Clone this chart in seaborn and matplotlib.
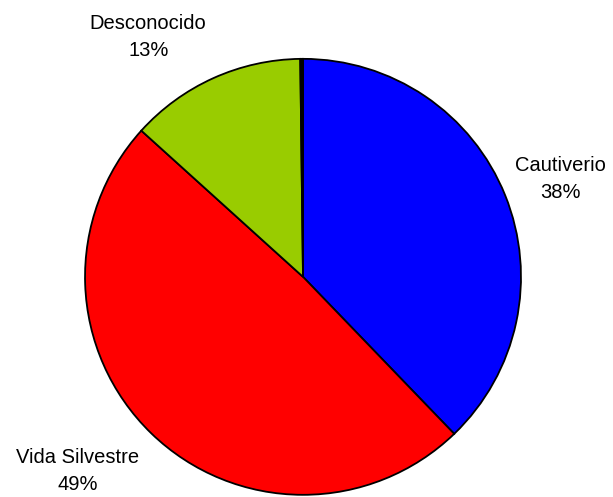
import matplotlib
matplotlib.use("Agg")
import matplotlib.pyplot as plt
import seaborn as sns

sns.set_style("white")
plt.rcParams['font.family'] = ['Liberation Sans', 'DejaVu Sans']

# slice data (clockwise from 12 o'clock)
categories = ["Cautiverio", "Vida Silvestre", "Desconocido", ""]
values = [37.8, 48.9, 13.1, 0.2]
pct_labels = ["38%", "49%", "13%", ""]
colors = ["#0000FF", "#FF0000", "#99CC00", "#000000"]

fig = plt.figure(figsize=(6.13, 4.97), dpi=100)
ax = fig.add_axes([0, 0, 1, 1])

labels = [f"{c}\n{p}" if c else "" for c, p in zip(categories, pct_labels)]
wedges, texts = ax.pie(values, labels=labels, colors=colors, startangle=90,
                       counterclock=False,
                       wedgeprops=dict(edgecolor="black", linewidth=1.3))

# place labels like the original (outside, Excel style)
label_pos = [(1.18, 0.45), (-1.035, -0.89), (-0.71, 1.10)]
for t, pos in zip(texts, label_pos):
    t.set_position(pos)
    t.set_ha("center")
    t.set_va("center")
    t.set_fontsize(14.5)
    t.set_color("black")
    t.set_linespacing(1.55)

ax.set_xlim(-1.39, 1.422)
ax.set_ylim(-1.01, 1.27)
ax.set_aspect("equal")
ax.axis("off")

fig.savefig("out.png", dpi=100, facecolor="white")
